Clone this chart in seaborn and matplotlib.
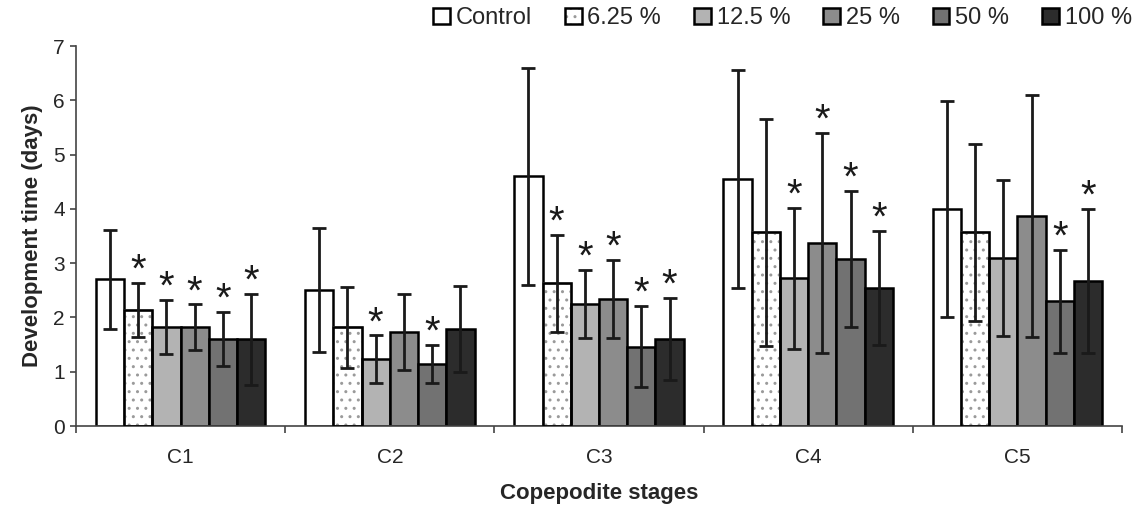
import pandas as pd
import matplotlib
matplotlib.use('Agg')
import matplotlib.pyplot as plt
import matplotlib.patches as mpatches
from matplotlib.legend_handler import HandlerTuple
import seaborn as sns

stages = ['C1', 'C2', 'C3', 'C4', 'C5']
concs = ['Control', '6.25 %', '12.5 %', '25 %', '50 %', '100 %']

# mean development time (days), one list per treatment, C1..C5
means = {
    'Control': [2.70, 2.50, 4.60, 4.55, 4.00],
    '6.25 %': [2.14, 1.82, 2.63, 3.57, 3.57],
    '12.5 %': [1.82, 1.23, 2.25, 2.72, 3.09],
    '25 %': [1.82, 1.73, 2.34, 3.37, 3.87],
    '50 %': [1.60, 1.14, 1.46, 3.08, 2.30],
    '100 %': [1.60, 1.79, 1.60, 2.54, 2.67],
}
# error bar half-length
errs = {
    'Control': [0.92, 1.14, 2.00, 2.01, 1.99],
    '6.25 %': [0.50, 0.75, 0.89, 2.09, 1.63],
    '12.5 %': [0.50, 0.44, 0.62, 1.30, 1.44],
    '25 %': [0.42, 0.70, 0.72, 2.03, 2.23],
    '50 %': [0.50, 0.35, 0.75, 1.25, 0.95],
    '100 %': [0.84, 0.79, 0.76, 1.05, 1.33],
}
# significant difference from control (asterisk)
signif = {
    'Control': [0, 0, 0, 0, 0],
    '6.25 %': [1, 0, 1, 0, 0],
    '12.5 %': [1, 1, 1, 1, 0],
    '25 %': [1, 0, 1, 1, 0],
    '50 %': [1, 1, 1, 1, 1],
    '100 %': [1, 0, 1, 1, 1],
}
colors = ['#ffffff', '#ffffff', '#b3b3b3', '#8c8c8c', '#727272', '#2c2c2c']

rows = []
for c in concs:
    for s, v in zip(stages, means[c]):
        rows.append({'stage': s, 'conc': c, 'time': v})
df = pd.DataFrame(rows)

sns.set_style('ticks')
plt.rcParams['font.family'] = ['Liberation Sans', 'DejaVu Sans']
plt.rcParams['hatch.linewidth'] = 1.0

fig = plt.figure(figsize=(11.39, 5.08), dpi=100)
ax = fig.add_axes([0.0667, 0.1614, 0.9184, 0.748])

sns.barplot(data=df, x='stage', y='time', hue='conc', order=stages, hue_order=concs,
            palette=colors, saturation=1, edgecolor='black', linewidth=1.8,
            width=0.81, legend=False, ax=ax)

for i, c in enumerate(concs):
    cont = ax.containers[i]
    xs = [p.get_x() + p.get_width() / 2 for p in cont.patches]
    ys = [p.get_height() for p in cont.patches]
    if c == '6.25 %':
        for p in cont.patches:
            p.set_hatch('..')
            p.set_edgecolor('#9a9a9a')
            ax.add_patch(mpatches.Rectangle(p.get_xy(), p.get_width(), p.get_height(),
                                            fill=False, ec='black', lw=1.8, zorder=3))
    ax.errorbar(xs, ys, yerr=errs[c], fmt='none', ecolor='#1a1a1a',
                elinewidth=2, capsize=5, capthick=2, zorder=4)
    for x, y, e, s in zip(xs, ys, errs[c], signif[c]):
        if s:
            ax.text(x, y + e + 0.02, '*', ha='center', va='baseline',
                    fontsize=29, color='#1a1a1a')

ax.set_ylim(0, 7)
ax.set_yticks(range(0, 8))
ax.set_xlim(-0.5, 4.5)
ax.set_xticks(range(len(stages)))
ax.set_xticklabels(stages)
ax.set_xticks([-0.5, 0.5, 1.5, 2.5, 3.5, 4.5], minor=True)
ax.tick_params(axis='x', which='major', length=0, pad=16, labelsize=15)
ax.tick_params(axis='x', which='minor', length=5, width=1.2, color='#444444', direction='out')
ax.tick_params(axis='y', length=4, width=1.2, color='#444444', pad=4, labelsize=15)
sns.despine(ax=ax)
for sp in ['left', 'bottom']:
    ax.spines[sp].set_color('#444444')
    ax.spines[sp].set_linewidth(1.2)

ax.set_xlabel('Copepodite stages', fontsize=16, fontweight='bold', labelpad=11)
ax.set_ylabel('Development time (days)', fontsize=16, fontweight='bold', labelpad=7)

handles = []
for c, col in zip(concs, colors):
    if c == '6.25 %':
        h = (mpatches.Patch(facecolor=col, edgecolor='#9a9a9a', hatch='..', lw=0),
             mpatches.Patch(fill=False, edgecolor='black', lw=1.8))
    else:
        h = mpatches.Patch(facecolor=col, edgecolor='black', lw=1.8)
    handles.append(h)
fig.legend(handles, concs, loc='upper right', bbox_to_anchor=(1.0, 1.0), ncol=6,
           frameon=False, fontsize=17, handlelength=0.7, handleheight=0.7,
           handletextpad=0.25, columnspacing=1.4, borderaxespad=0.2, borderpad=0.1,
           handler_map={tuple: HandlerTuple(ndivide=1, pad=0)})

fig.savefig('out.png', dpi=100)
